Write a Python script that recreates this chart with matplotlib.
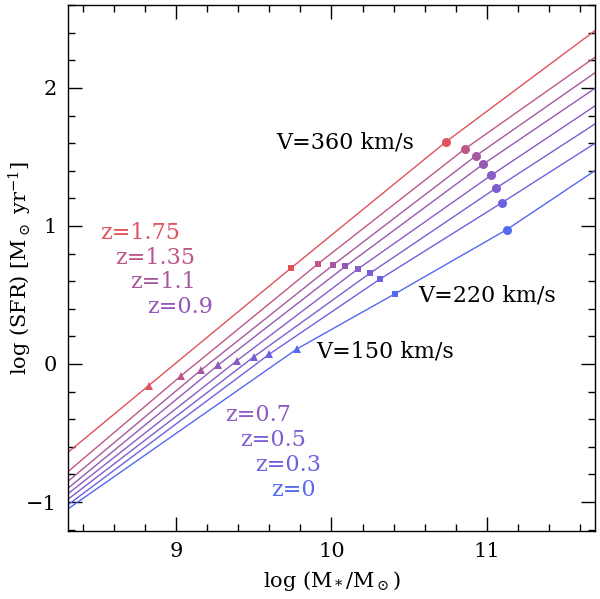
import matplotlib
matplotlib.use('Agg')
import matplotlib.pyplot as plt
from matplotlib.ticker import MultipleLocator

plt.rcParams['font.family'] = 'DejaVu Serif'
plt.rcParams['mathtext.fontset'] = 'dejavuserif'

# redshift of each track, top (red) to bottom (blue)
redshifts = ['1.75', '1.35', '1.1', '0.9', '0.7', '0.5', '0.3', '0']
colors = ['#e0525c', '#bf568a', '#a7589f', '#9558b4', '#8a5cc4', '#7c5ed2', '#6c62e0', '#5468f0']

# markers along each track: V=150 (triangle), V=220 (square), V=360 (circle)
tri_x = [8.82, 9.03, 9.16, 9.27, 9.39, 9.50, 9.60, 9.78]
tri_y = [-0.157, -0.085, -0.042, -0.007, 0.024, 0.053, 0.072, 0.111]
sq_x = [9.74, 9.91, 10.01, 10.09, 10.17, 10.25, 10.31, 10.41]
sq_y = [0.696, 0.723, 0.717, 0.708, 0.688, 0.659, 0.613, 0.509]
circ_x = [10.74, 10.86, 10.93, 10.98, 11.03, 11.06, 11.10, 11.13]
circ_y = [1.611, 1.558, 1.507, 1.449, 1.367, 1.273, 1.169, 0.973]

# where the tracks cross the left and right edges
x_left, x_right = 8.3, 11.7
y_left = [-0.64, -0.78, -0.85, -0.90, -0.94, -0.98, -1.02, -1.05]
y_right = [2.415, 2.222, 2.11, 1.997, 1.87, 1.739, 1.599, 1.401]

fig = plt.figure(figsize=(6, 5.99), dpi=100)
ax = fig.add_axes([0.1133, 0.1135, 0.8784, 0.878])

for i in range(len(redshifts)):
    xs = [x_left, tri_x[i], sq_x[i], circ_x[i], x_right]
    ys = [y_left[i], tri_y[i], sq_y[i], circ_y[i], y_right[i]]
    ax.plot(xs, ys, color=colors[i], lw=1.0)
    ax.plot(tri_x[i], tri_y[i], '^', color=colors[i], ms=5.5, mew=0)
    ax.plot(sq_x[i], sq_y[i], 's', color=colors[i], ms=4.5, mew=0)
    ax.plot(circ_x[i], circ_y[i], 'o', color=colors[i], ms=6.5, mew=0)

# z labels
upper_pos = [(100, 233), (115, 258), (130, 282), (147, 307)]
lower_pos = [(225, 415), (240, 440), (255, 465), (271, 490)]
for i, (px, py) in enumerate(upper_pos + lower_pos):
    fig.text(px / 600, 1 - py / 599, 'z=' + redshifts[i], color=colors[i],
             fontsize=16, va='center', ha='left')

fig.text(276 / 600, 1 - 143 / 599, 'V=360 km/s', fontsize=16, va='center')
fig.text(418 / 600, 1 - 296 / 599, 'V=220 km/s', fontsize=16, va='center')
fig.text(316 / 600, 1 - 352 / 599, 'V=150 km/s', fontsize=16, va='center')

ax.set_xlim(8.3, 11.7)
ax.set_ylim(-1.21, 2.6)
ax.xaxis.set_major_locator(MultipleLocator(1))
ax.xaxis.set_minor_locator(MultipleLocator(0.2))
ax.yaxis.set_major_locator(MultipleLocator(1))
ax.yaxis.set_minor_locator(MultipleLocator(0.2))
ax.tick_params(which='both', direction='in', top=True, right=True, width=1.0)
ax.tick_params(which='major', length=10, labelsize=15, pad=8)
ax.tick_params(which='minor', length=5)
for s in ax.spines.values():
    s.set_linewidth(1.0)

ax.set_xlabel(r'log (M$_*$/M$_\odot$)', fontsize=15, labelpad=6)
fig.text(20 / 600, 1 - 268 / 599, r'log (SFR) [M$_\odot$ yr$^{-1}$]',
         fontsize=15, rotation=90, ha='center', va='center')

fig.savefig('out.png', dpi=100)
